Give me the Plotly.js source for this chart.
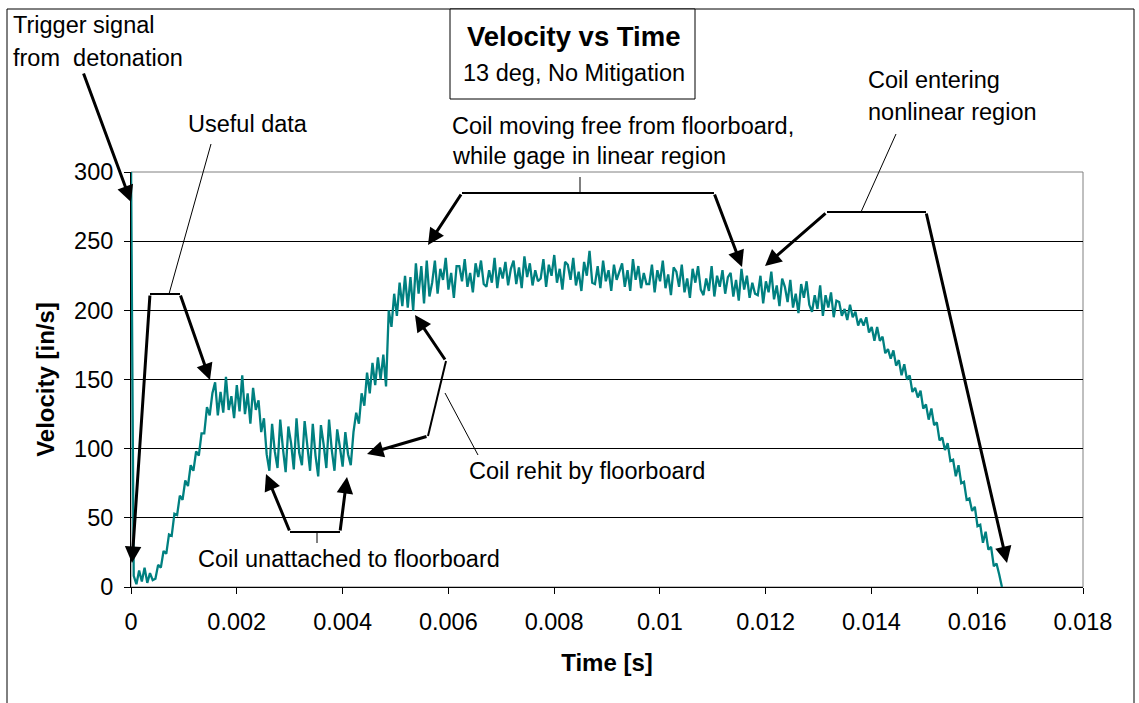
<!DOCTYPE html>
<html>
<head>
<meta charset="utf-8">
<script src="https://cdn.plot.ly/plotly-3.0.1.min.js"></script>
<style>
html,body{margin:0;padding:0;background:#fff;}
#chart{width:1139px;height:703px;}
</style>
</head>
<body>
<div id="chart"></div>
<script>
const sampleStart = 0;           // s
const sampleInterval = 0.0000513; // s between samples

const velTrigger = [310, 8, 2, 12, 4, 14, 3, 10, 5];
const velRamp = [6, 16, 14, 26, 24, 38, 37, 53, 52, 66, 63, 77, 73, 88, 84, 98, 95, 111, 111, 130, 124, 140];
const velPlateau = [148, 124, 141, 126, 152, 128, 138, 122, 146, 127, 153, 125, 140, 118, 144, 128];
const velDrop = [135, 112, 122, 96];
const velUnattached = [84, 118, 98, 86, 121, 100, 83, 116, 104, 85, 122, 97, 88, 120, 102, 84, 118, 95, 80, 117,
  103, 86, 121, 99, 84, 114, 101, 87, 112, 96, 88];
const velRehit = [112, 126, 118, 140, 131, 155, 140, 162, 146, 166, 150, 168, 145, 200, 188, 212, 196, 220, 203];
const velFreeEarly = [
  225, 202, 224, 200, 234, 212, 232, 205, 236, 210,
  220, 236, 212, 230, 222, 238, 215, 227, 209, 232,
  232, 221, 237, 217, 227, 213, 234, 224, 236, 219,
  217, 229, 220, 238, 216, 231, 223, 235, 218, 230,
  236, 219, 231, 216, 239, 224, 234, 218, 229, 221,
  223, 237, 217, 233, 225, 240, 220, 230, 215, 235,
  233, 222, 238, 218, 228, 214, 235, 225, 243, 220,
  219, 232, 216, 236, 221, 229, 214, 233, 222, 228];
const velFreeLate = [
  234, 217, 229, 214, 237, 222, 232, 216, 227, 219,
  219, 233, 213, 229, 221, 236, 216, 226, 211, 231,
  228, 217, 233, 213, 223, 209, 230, 220, 232, 215,
  211, 223, 214, 232, 210, 225, 217, 229, 212, 224,
  227, 210, 222, 207, 230, 215, 225, 209, 220, 212,
  211, 225, 205, 221, 213, 228, 208, 218, 203, 223,
  217, 206, 222, 202, 212, 198, 219, 209, 221, 204,
  199, 211, 201, 218, 196, 211, 202, 213, 195, 207];
const velDecel = [
  206, 196, 201, 193, 204, 195, 199, 189, 194, 189,
  195, 184, 188, 178, 188, 178, 181, 169, 172, 165,
  171, 160, 164, 153, 161, 150, 153, 141, 144, 137,
  142, 129, 132, 121, 129, 117, 119, 106, 108, 99,
  104, 91, 92, 80, 88, 75, 76, 63, 64, 55,
  58, 44, 45, 32, 40, 27, 29, 15, 17, 9,
  0];

const xTickVals = [0, 0.002, 0.004, 0.006, 0.008, 0.01, 0.012, 0.014, 0.016, 0.018];
const xTickText = ['0', '0.002', '0.004', '0.006', '0.008', '0.01', '0.012', '0.014', '0.016', '0.018'];
const yTickVals = [0, 50, 100, 150, 200, 250, 300];

const velocity = [].concat(velTrigger, velRamp, velPlateau, velDrop, velUnattached,
  velRehit, velFreeEarly, velFreeLate, velDecel);

// ---- layout helpers (pixel -> paper) ----
const W = 1139, H = 703;
const M = {l: 131, r: 56, t: 172, b: 116};
const PW = W - M.l - M.r, PH = H - M.t - M.b;
const px = x => (x - M.l) / PW;
const py = y => (H - M.b - y) / PH;
const FONT = 'Liberation Sans, Arial, sans-serif';

function seg(x0, y0, x1, y1, w) {
  return {type: 'line', xref: 'paper', yref: 'paper', x0: px(x0), y0: py(y0), x1: px(x1), y1: py(y1),
          line: {color: '#000', width: w}};
}
function arrow(tx, ty, hx, hy) {
  return {xref: 'paper', yref: 'paper', x: px(hx), y: py(hy), ax: tx - hx, ay: ty - hy,
          text: '', showarrow: true, arrowhead: 2, arrowsize: 1.1, arrowwidth: 3, arrowcolor: '#000', standoff: 0};
}
function label(text, x, y, size, anchor) {
  return {xref: 'paper', yref: 'paper', x: px(x), y: py(y), text: text, showarrow: false,
          xanchor: anchor || 'left', yanchor: 'middle', font: {family: FONT, size: size || 23.5, color: '#000'}};
}

const shapes = [
  // outer chart frame
  {type: 'rect', xref: 'paper', yref: 'paper', x0: px(7), y0: py(720), x1: px(1134), y1: py(9),
   line: {color: '#000', width: 1}, layer: 'below'},
  // plot area frame (grey)
  {type: 'rect', xref: 'paper', yref: 'paper', x0: 0, y0: 0, x1: 1, y1: 1,
   line: {color: '#808080', width: 1}, layer: 'below'},
  // title box
  {type: 'rect', xref: 'paper', yref: 'paper', x0: px(450), y0: py(99), x1: px(695), y1: py(9),
   line: {color: '#000', width: 1}, fillcolor: '#fff'},
  // useful data bracket
  seg(150, 294, 180, 294, 2), seg(169, 294, 211, 144, 1),
  // unattached bracket
  seg(290, 532, 340, 532, 2), seg(317, 532, 317, 543, 1),
  // rehit bracket
  seg(446, 361, 428, 436, 2), seg(445, 393, 478, 455, 1),
  // free motion bracket
  seg(462, 193, 714, 193, 2), seg(580, 177, 580, 193, 1),
  // nonlinear bracket
  seg(827, 212, 926, 212, 2), seg(896, 134, 861, 212, 1)
];

const annotations = [
  // title box
  label('<b>Velocity vs Time</b>', 574, 36, 27.5, 'center'),
  label('13 deg, No Mitigation', 574, 73, 23.5, 'center'),
  // notes
  label('Trigger signal', 11, 25),
  label('from&nbsp;&nbsp;detonation', 11, 58),
  label('Useful data', 186, 124),
  label('Coil moving free from floorboard,', 450, 126),
  label('while gage in linear region', 450, 156),
  label('Coil entering', 866, 80),
  label('nonlinear region', 866, 112),
  label('Coil rehit by floorboard', 467, 471),
  label('Coil unattached to floorboard', 196, 559),
  // arrows
  arrow(83, 72, 131, 202),
  arrow(150, 294, 132, 563),
  arrow(180, 294, 210, 380),
  arrow(290, 532, 266, 474),
  arrow(340, 532, 347, 477),
  arrow(446, 361, 415, 315),
  arrow(428, 436, 367, 454),
  arrow(462, 193, 428, 245),
  arrow(714, 193, 742, 267),
  arrow(827, 212, 765, 266),
  arrow(926, 212, 1007, 563)
];

const trace = {
  type: 'scatter', mode: 'lines',
  x0: sampleStart, dx: sampleInterval, y: velocity,
  line: {color: '#008080', width: 2.3},
  hoverinfo: 'skip', showlegend: false
};

const layout = {
  width: W, height: H,
  margin: {l: M.l, r: M.r, t: M.t, b: M.b, pad: 0},
  paper_bgcolor: '#fff', plot_bgcolor: '#fff',
  showlegend: false,
  font: {family: FONT, size: 23.5, color: '#000'},
  xaxis: {
    range: [0, 0.018], tickvals: xTickVals, ticktext: xTickText,
    ticks: 'outside', ticklen: 6, tickwidth: 1, tickcolor: '#000',
    ticklabelstandoff: 8,
    showgrid: false, zeroline: false, showline: true, linecolor: '#000', linewidth: 1,
    tickfont: {family: FONT, size: 23.5, color: '#000'},
    title: {text: '<b>Time [s]</b>', font: {family: FONT, size: 24, color: '#000'}, standoff: 19},
    fixedrange: true
  },
  yaxis: {
    range: [0, 300], tickvals: yTickVals,
    ticks: 'outside', ticklen: 6, tickwidth: 1, tickcolor: '#000',
    ticklabelstandoff: 6,
    showgrid: true, gridcolor: '#000', gridwidth: 1,
    zeroline: false, showline: true, linecolor: '#000', linewidth: 1,
    tickfont: {family: FONT, size: 23.5, color: '#000'},
    title: {text: '<b>Velocity [in/s]</b>', font: {family: FONT, size: 24, color: '#000'}, standoff: 12},
    fixedrange: true
  },
  shapes: shapes,
  annotations: annotations
};

Plotly.newPlot('chart', [trace], layout, {staticPlot: true, displayModeBar: false});
</script>
</body>
</html>
